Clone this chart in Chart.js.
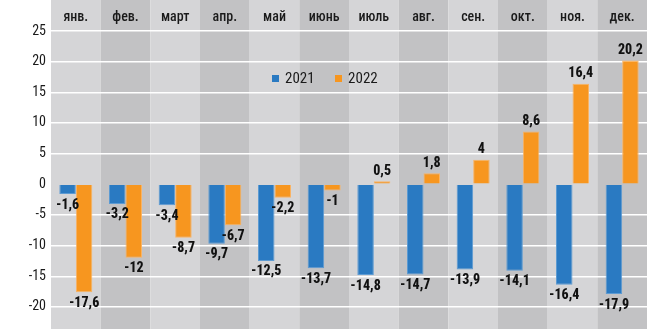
<!DOCTYPE html>
<html>
<head>
<meta charset="utf-8">
<script src="https://cdn.jsdelivr.net/npm/chart.js@4.4.0/dist/chart.umd.min.js"></script>
<style>
    body { margin: 0; background: #fff; }
    #wrap { position: relative; width: 647px; height: 329px; }
    .legend { position: absolute; left: 272px; top: 70px; font-family: 'Roboto Condensed', sans-serif; font-size: 15px; color: #1a1a1a; white-space: nowrap; line-height: 17px; }
    .legend span.box { display: inline-block; width: 7px; height: 7px; margin-right: 6px; vertical-align: 1px; }
    .legend span.item { margin-right: 17px; }
</style>
</head>
<body>
<div id="wrap">
    <canvas id="chart"></canvas>
    <div class="legend">
        <span class="item"><span class="box" style="background:#2a7ac2"></span>2021</span>
        <span class="item"><span class="box" style="background:#f7961f"></span>2022</span>
    </div>
</div>
<script>
const months = ['янв.', 'фев.', 'март', 'апр.', 'май', 'июнь', 'июль', 'авг.', 'сен.', 'окт.', 'ноя.', 'дек.'];
const values2021 = [-1.6, -3.2, -3.4, -9.7, -12.5, -13.7, -14.8, -14.7, -13.9, -14.1, -16.4, -17.9];
const values2022 = [-17.6, -12, -8.7, -6.7, -2.2, -1, 0.5, 1.8, 4, 8.6, 16.4, 20.2];
const yTicks = [-20, -15, -10, -5, 0, 5, 10, 15, 20, 25];

const FONT = "'Roboto Condensed', 'Open Sans', sans-serif";

// alternating grey columns behind the whole chart
const columnsPlugin = {
    id: 'columns',
    beforeDraw(chart) {
        const ctx = chart.ctx;
        const area = chart.chartArea;
        const x = chart.scales.x;
        const w = (area.right - area.left) / months.length;
        ctx.save();
        ctx.fillStyle = '#ffffff';
        ctx.fillRect(0, 0, chart.width, chart.height);
        months.forEach(function(m, i) {
            const cx = x.getPixelForValue(i);
            ctx.fillStyle = i % 2 === 0 ? '#d5d5d7' : '#c2c2c4';
            ctx.fillRect(cx - w / 2, 0, w, chart.height);
        });
        ctx.restore();
    }
};

// value labels at the bar ends
const labelsPlugin = {
    id: 'barLabels',
    afterDatasetsDraw(chart) {
        const ctx = chart.ctx;
        ctx.save();
        ctx.font = '800 14px ' + FONT;
        ctx.fillStyle = '#111';
        ctx.textAlign = 'center';
        chart.data.datasets.forEach(function(ds, di) {
            const meta = chart.getDatasetMeta(di);
            meta.data.forEach(function(bar, i) {
                const v = ds.data[i];
                const txt = String(v).replace('.', ',');
                if (v < 0) {
                    ctx.textBaseline = 'top';
                    ctx.fillText(txt, bar.x, bar.y + 4);
                } else {
                    ctx.textBaseline = 'bottom';
                    ctx.fillText(txt, bar.x, bar.y - 3);
                }
            });
        });
        ctx.restore();
    }
};

new Chart(document.getElementById('chart'), {
    type: 'bar',
    data: {
        labels: months,
        datasets: [
            {
                label: '2021',
                data: values2021,
                backgroundColor: '#2a7ac2',
                borderColor: '#5d9bd3',
                borderWidth: 1,
                categoryPercentage: 0.665,
                barPercentage: 1
            },
            {
                label: '2022',
                data: values2022,
                backgroundColor: '#f7961f',
                borderColor: '#f9b465',
                borderWidth: 1,
                categoryPercentage: 0.665,
                barPercentage: 1
            }
        ]
    },
    options: {
        responsive: true,
        maintainAspectRatio: false,
        animation: false,
        layout: { padding: 0 },
        plugins: {
            legend: { display: false },
            tooltip: { enabled: false }
        },
        scales: {
            x: {
                position: 'top',
                grid: { display: false, drawTicks: false },
                border: { display: false },
                ticks: {
                    padding: 5,
                    color: '#1a1a1a',
                    font: { family: FONT, size: 14, weight: 500 }
                },
                afterFit: function(scale) {
                    scale.height = 31;
                    scale.paddingLeft = 0;
                    scale.paddingRight = 0;
                }
            },
            y: {
                min: -23.6,
                max: 25,
                afterBuildTicks: function(scale) {
                    scale.ticks = yTicks.map(function(v) { return { value: v }; });
                },
                grid: {
                    drawTicks: false,
                    lineWidth: 1.5,
                    color: function(c) { return c.tick && c.tick.value === 0 ? 'rgba(0,0,0,0)' : '#ffffff'; }
                },
                border: { display: false },
                ticks: {
                    padding: 5,
                    color: '#1a1a1a',
                    font: { family: FONT, size: 14 }
                },
                afterFit: function(scale) {
                    scale.width = 51;
                    scale.paddingTop = 0;
                    scale.paddingBottom = 0;
                }
            }
        }
    },
    plugins: [columnsPlugin, labelsPlugin]
});
</script>
</body>
</html>
